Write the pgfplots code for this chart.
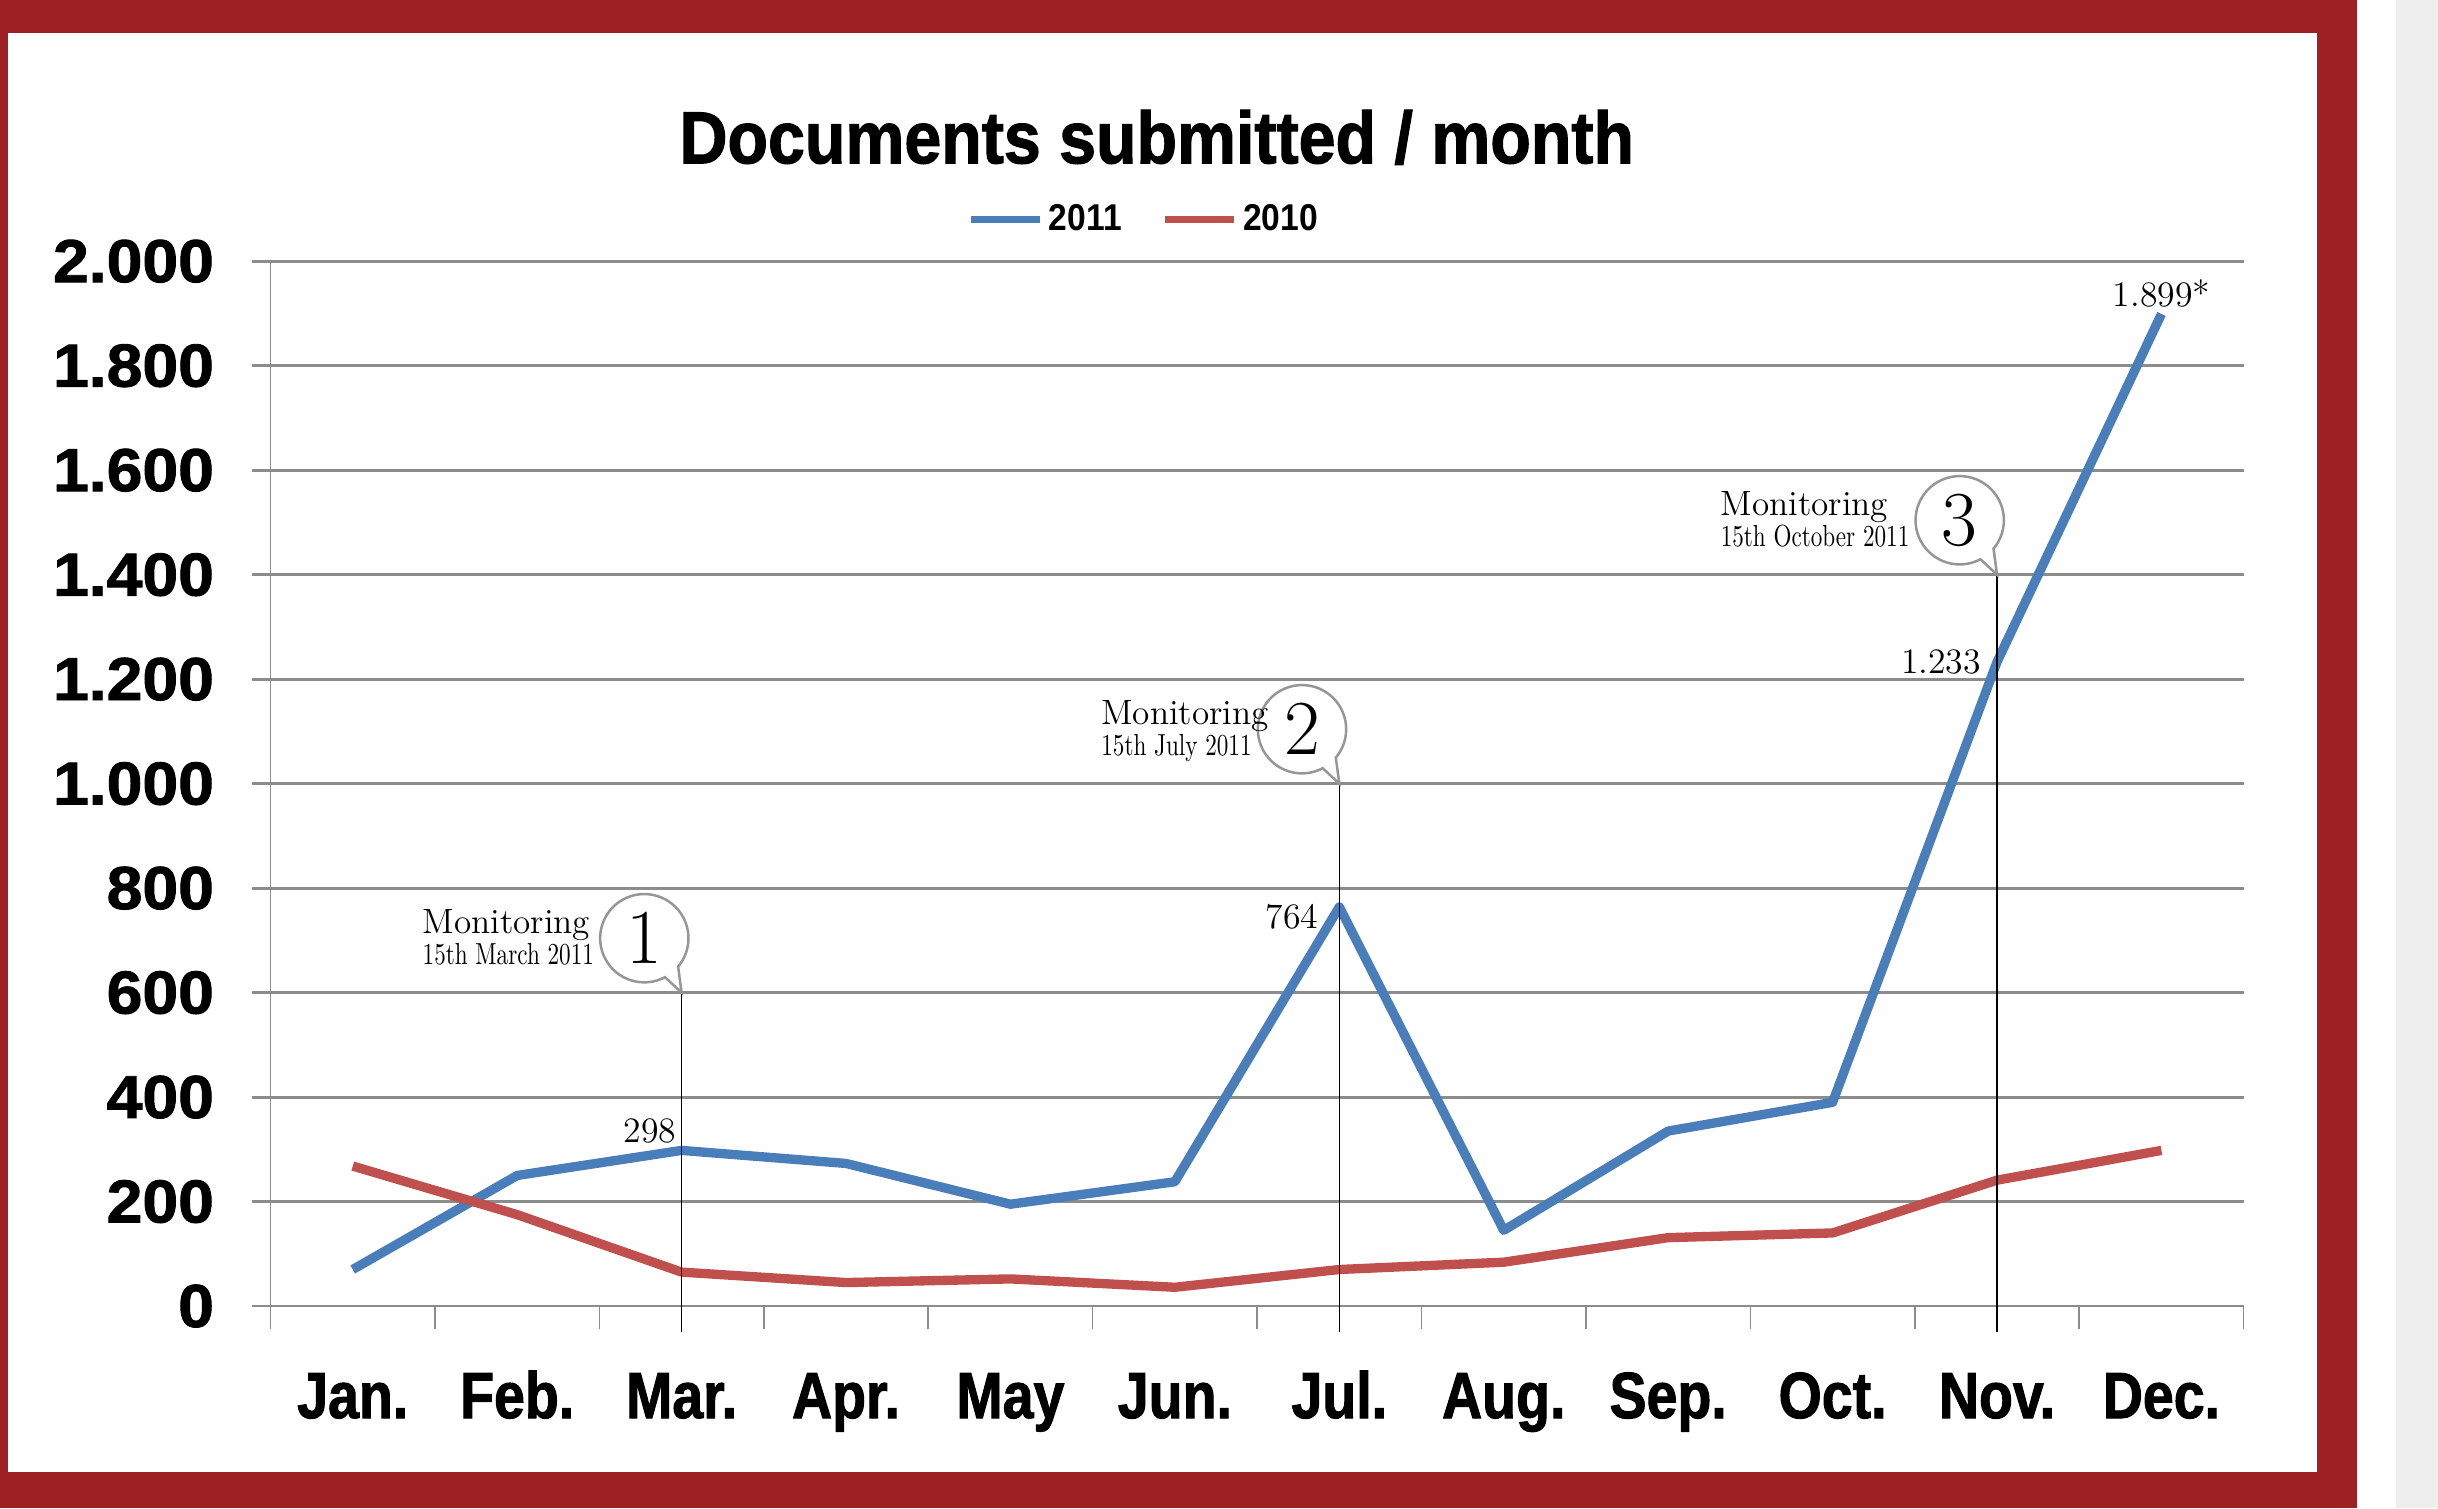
\documentclass[border=0pt]{standalone}
\usepackage{pgfplots}
\pgfplotsset{compat=1.18}
\usepackage{graphicx}
\usepackage{fontspec}
\newfontfamily\titlefont[FakeStretch=0.9, BoldFeatures={FakeBold=1.5}]{Liberation Sans}
\newfontfamily\legfont[FakeStretch=0.9]{Liberation Sans}
\newfontfamily\monthfont[FakeStretch=0.85, BoldFeatures={FakeBold=1.5}]{Liberation Sans}
\newfontfamily\yfont[FakeStretch=1.06, BoldFeatures={FakeBold=1.5}]{Liberation Sans}
\definecolor{framered}{RGB}{158,32,37}
\definecolor{blue11}{RGB}{74,126,187}
\definecolor{red10}{RGB}{192,80,77}
\definecolor{gridc}{RGB}{140,140,140}
\definecolor{sidegray}{RGB}{238,238,238}
\definecolor{bubblegray}{RGB}{150,150,150}

% #1 x index, #2 y of tip, #3 number, #4 date
\newcommand{\monitor}[4]{%
  \draw[black, line width=0.5pt] (axis cs:#1,-50) -- (axis cs:#1,#2);
  \begin{scope}[shift={(axis cs:#1,#2)}]
    \filldraw[fill=white, draw=bubblegray, line width=0.8pt]
      (-1.12pt,8.37pt) -- (0pt,0pt) -- (-5.33pt,4.96pt)
      arc[start angle=-62, end angle=-400, radius=14.2pt] -- cycle;
    \node[inner sep=0pt, font=\fontsize{25}{25}\selectfont] at (-12pt,17.5pt) {#3};
    \node[anchor=base east, inner sep=0pt, font=\fontsize{9.8}{10}\selectfont] (date#3) at (-28pt,9pt) {\scalebox{0.76}[1]{#4}};
    \node[anchor=base west, inner sep=0pt, font=\fontsize{11.3}{12}\selectfont] at ([yshift=10pt]date#3.base west) {Monitoring};
  \end{scope}
}

\begin{document}
\begin{tikzpicture}
  % background and frame
  \fill[white] (0pt,0pt) rectangle (784pt,485pt);
  \fill[sidegray] (770.5pt,0pt) rectangle (784pt,485pt);
  \fill[framered] (0pt,0pt) rectangle (758pt,485pt);
  \fill[white] (2.5pt,11.5pt) rectangle (745pt,474.5pt);
  % title
  \node[anchor=base, inner sep=0pt, font=\titlefont\bfseries\fontsize{23.7}{24}\selectfont] at (372pt,432.5pt) {Documents submitted / month};

  \begin{axis}[
    at={(87pt,65pt)}, anchor=south west,
    scale only axis, width=634.5pt, height=336pt,
    xmin=-0.5, xmax=11.5, ymin=0, ymax=2000,
    clip=false,
    axis lines*=left,
    x axis line style={gridc, line width=0.9pt},
    y axis line style={gridc, line width=0.4pt},
    tick align=outside,
    xtick={0,...,11},
    xticklabels={Jan.,Feb.,Mar.,Apr.,May,Jun.,Jul.,Aug.,Sep.,Oct.,Nov.,Dec.},
    minor xtick={-0.5,0.5,...,11.5},
    major x tick style={draw=none},
    minor x tick style={gridc, line width=0.5pt},
    minor tick length=7.5pt,
    major tick length=6pt,
    ytick={0,200,...,2000},
    yticklabels={0,200,400,600,800,1.000,1.200,1.400,1.600,1.800,2.000},
    major y tick style={gridc, line width=0.9pt},
    ymajorgrids,
    major grid style={gridc, line width=0.9pt},
    xticklabel style={anchor=base, inner sep=0pt, yshift=-30pt, font=\monthfont\bfseries\fontsize{21}{21}\selectfont},
    yticklabel style={anchor=east, inner sep=0pt, xshift=-12pt, font=\yfont\bfseries\fontsize{19.5}{20}\selectfont},
    legend style={at={(0.4437,1.040)}, anchor=center, draw=none, fill=none,
      legend columns=2, inner sep=0pt,
      font=\legfont\bfseries\fontsize{12}{12}\selectfont,
      /tikz/every even column/.append style={column sep=11pt}},
    legend image code/.code={\draw[#1, line width=2pt] (0pt,0pt) -- (22pt,0pt);},
  ]
    \addplot[blue11, line width=3pt, line join=round] coordinates {
      (0,70) (1,250) (2,298) (3,273) (4,195) (5,238) (6,764) (7,145) (8,335) (9,390) (10,1233) (11,1899)};
    \addlegendentry{2011}
    \addplot[red10, line width=3pt, line join=round] coordinates {
      (0,268) (1,175) (2,65) (3,45) (4,52) (5,36) (6,70) (7,84) (8,131) (9,140) (10,241) (11,298)};
    \addlegendentry{2010}

    \monitor{2}{600}{1}{15th March 2011}
    \monitor{6}{1000}{2}{15th July 2011}
    \monitor{10}{1400}{3}{15th October 2011}

    \node[anchor=base east, inner sep=0pt, font=\fontsize{11.5}{12}\selectfont] at ([xshift=-1.5pt,yshift=2.5pt]axis cs:2,298) {298};
    \node[anchor=base east, inner sep=0pt, font=\fontsize{11.5}{12}\selectfont] at ([xshift=-6.5pt,yshift=-7pt]axis cs:6,764) {764};
    \node[anchor=base east, inner sep=0pt, font=\fontsize{11.5}{12}\selectfont] at ([xshift=-5pt,yshift=-3.6pt]axis cs:10,1233) {1.233};
    \node[anchor=base, inner sep=0pt, font=\fontsize{11.5}{12}\selectfont] at ([yshift=2.5pt]axis cs:11,1899) {1.899*};
  \end{axis}
\end{tikzpicture}
\end{document}
